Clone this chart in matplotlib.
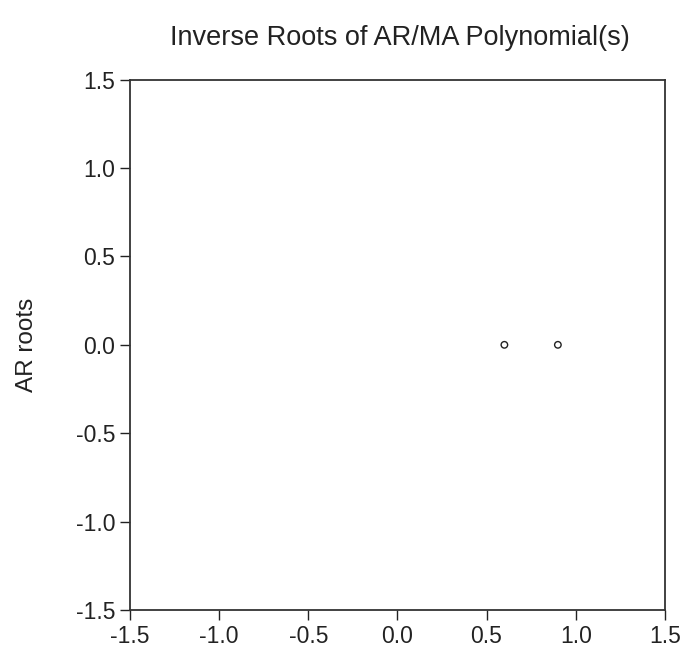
import matplotlib
matplotlib.use("Agg")
import matplotlib.pyplot as plt

plt.rcParams["font.family"] = ["Liberation Sans", "DejaVu Sans"]

# inverse AR roots (real, imaginary)
root_re = [0.6, 0.9]
root_im = [0.0, 0.0]
ticks = [-1.5, -1.0, -0.5, 0.0, 0.5, 1.0, 1.5]

fig = plt.figure(figsize=(6.84, 6.5), dpi=100)
ax = fig.add_axes([0.19, 0.0615, 0.782, 0.816])

ax.scatter(root_re, root_im, s=22, facecolors="none", edgecolors="#222222", linewidths=1.0)

ax.set_xlim(-1.5, 1.5)
ax.set_ylim(-1.5, 1.5)
ax.set_xticks(ticks)
ax.set_yticks(ticks)
ax.set_xticklabels([f"{t:.1f}" for t in ticks])
ax.set_yticklabels([f"{t:.1f}" for t in ticks])
ax.tick_params(direction="out", length=7.5, width=1.0, labelsize=16.5, colors="#222222", pad=3)
for sp in ax.spines.values():
    sp.set_linewidth(1.3)
    sp.set_color("#333333")

ax.set_ylabel("AR roots", fontsize=17.5, labelpad=27, color="#222222")
fig.text(0.584, 0.942, "Inverse Roots of AR/MA Polynomial(s)", ha="center", va="center",
         fontsize=19.5, color="#222222")

fig.savefig("out.png", dpi=100)
